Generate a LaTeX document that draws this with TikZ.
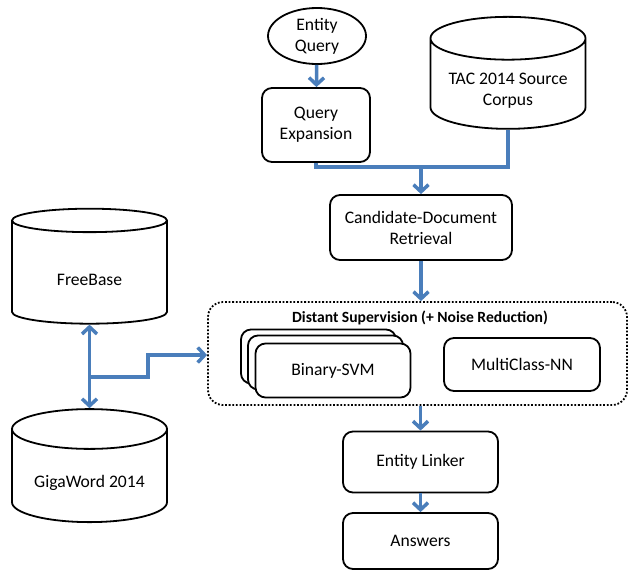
\documentclass[tikz,border=0pt]{standalone}
\usepackage{fontspec}
\setmainfont{Carlito}
\usetikzlibrary{shapes.geometric,arrows.meta,positioning}
\definecolor{flowblue}{RGB}{74,126,187}

\begin{document}
\begin{tikzpicture}[x=1pt, y=-1pt,
  box/.style={draw, line width=1.8pt, rounded corners=10pt, fill=white, align=center, inner sep=0pt, font=\fontsize{17.6}{21}\selectfont},
  store/.style={draw, line width=1.8pt, cylinder, shape border rotate=90, aspect=0.36, inner sep=0pt, align=center, font=\fontsize{17.6}{21}\selectfont},
  storetext/.style={align=center, inner sep=0pt, font=\fontsize{17.6}{21}\selectfont},
  flow/.style={->, >={Straight Barb[length=7pt, width=15pt]}, line width=3.5pt, flowblue},
  link/.style={line width=3.5pt, flowblue}]
  \useasboundingbox (0,0) rectangle (628,571);

  % inputs
  \node[draw, ellipse, line width=1.8pt, minimum width=98pt, minimum height=56pt, inner sep=0pt, align=center, font=\fontsize{17.6}{21}\selectfont] (query) at (317,36) {Entity\\Query};
  \node[box, minimum width=108pt, minimum height=74pt] (qexp) at (316,125) {Query\\Expansion};
  \node[store, minimum width=155pt, minimum height=112pt] (tac) at (508,84) {\phantom{TAC 2014 Source}\\\phantom{Corpus}};
  \node[storetext] (tactext) at (508,91) {TAC 2014 Source\\Corpus};
  \node[box, minimum width=182pt, minimum height=65pt] (cand) at (421,227.5) {Candidate-Document\\Retrieval};

  % knowledge stores
  \node[store, minimum width=155pt, minimum height=115pt] (free) at (89.5,272.5) {\phantom{FreeBase}};
  \node[storetext] (freetext) at (89.5,280) {FreeBase};
  \node[store, minimum width=155pt, minimum height=113pt] (giga) at (89.5,476) {\phantom{GigaWord 2014}};
  \node[storetext] (gigatext) at (89.5,483) {GigaWord 2014};

  % distant supervision block
  \node[draw, line width=1.8pt, dash pattern=on 1.8pt off 1.8pt, rounded corners=15pt, minimum width=419pt, minimum height=103pt] (ds) at (417.5,353.5) {};
  \node[font=\bfseries\fontsize{15.6}{18}\selectfont] (dstitle) at (420,318) {Distant Supervision (+ Noise Reduction)};
  \node[box, minimum width=155pt, minimum height=54pt] (svmback) at (318.5,356.5) {};
  \node[box, minimum width=155pt, minimum height=54pt] (svmmid) at (325.5,362.5) {};
  \node[box, minimum width=155pt, minimum height=54pt] (svm) at (333,370.5) {Binary-SVM};
  \node[box, minimum width=156pt, minimum height=53pt] (mcnn) at (522,364.5) {MultiClass-NN};

  % output
  \node[box, minimum width=155pt, minimum height=61pt] (elink) at (420.5,462) {Entity Linker};
  \node[box, minimum width=155pt, minimum height=56pt] (ans) at (420.5,541) {Answers};

  % connectors
  \coordinate (merge) at (421,167);
  \coordinate (hub) at (90,377);
  \coordinate (bend) at (148,355);
  \draw[flow] (query) -- (qexp);
  \draw[link] (qexp.south) |- (merge) -| (tac.south);
  \draw[flow] (merge) -- (cand);
  \draw[flow] (cand.south) -- (cand.south |- ds.north);
  \draw[flow] (ds.south -| elink) -- (elink);
  \draw[flow] (elink) -- (ans);
  \draw[flow, <->] (free.south) -- (giga.north);
  \draw[flow] (hub) -| (bend) -- (bend -| ds.west);
\end{tikzpicture}
\end{document}
